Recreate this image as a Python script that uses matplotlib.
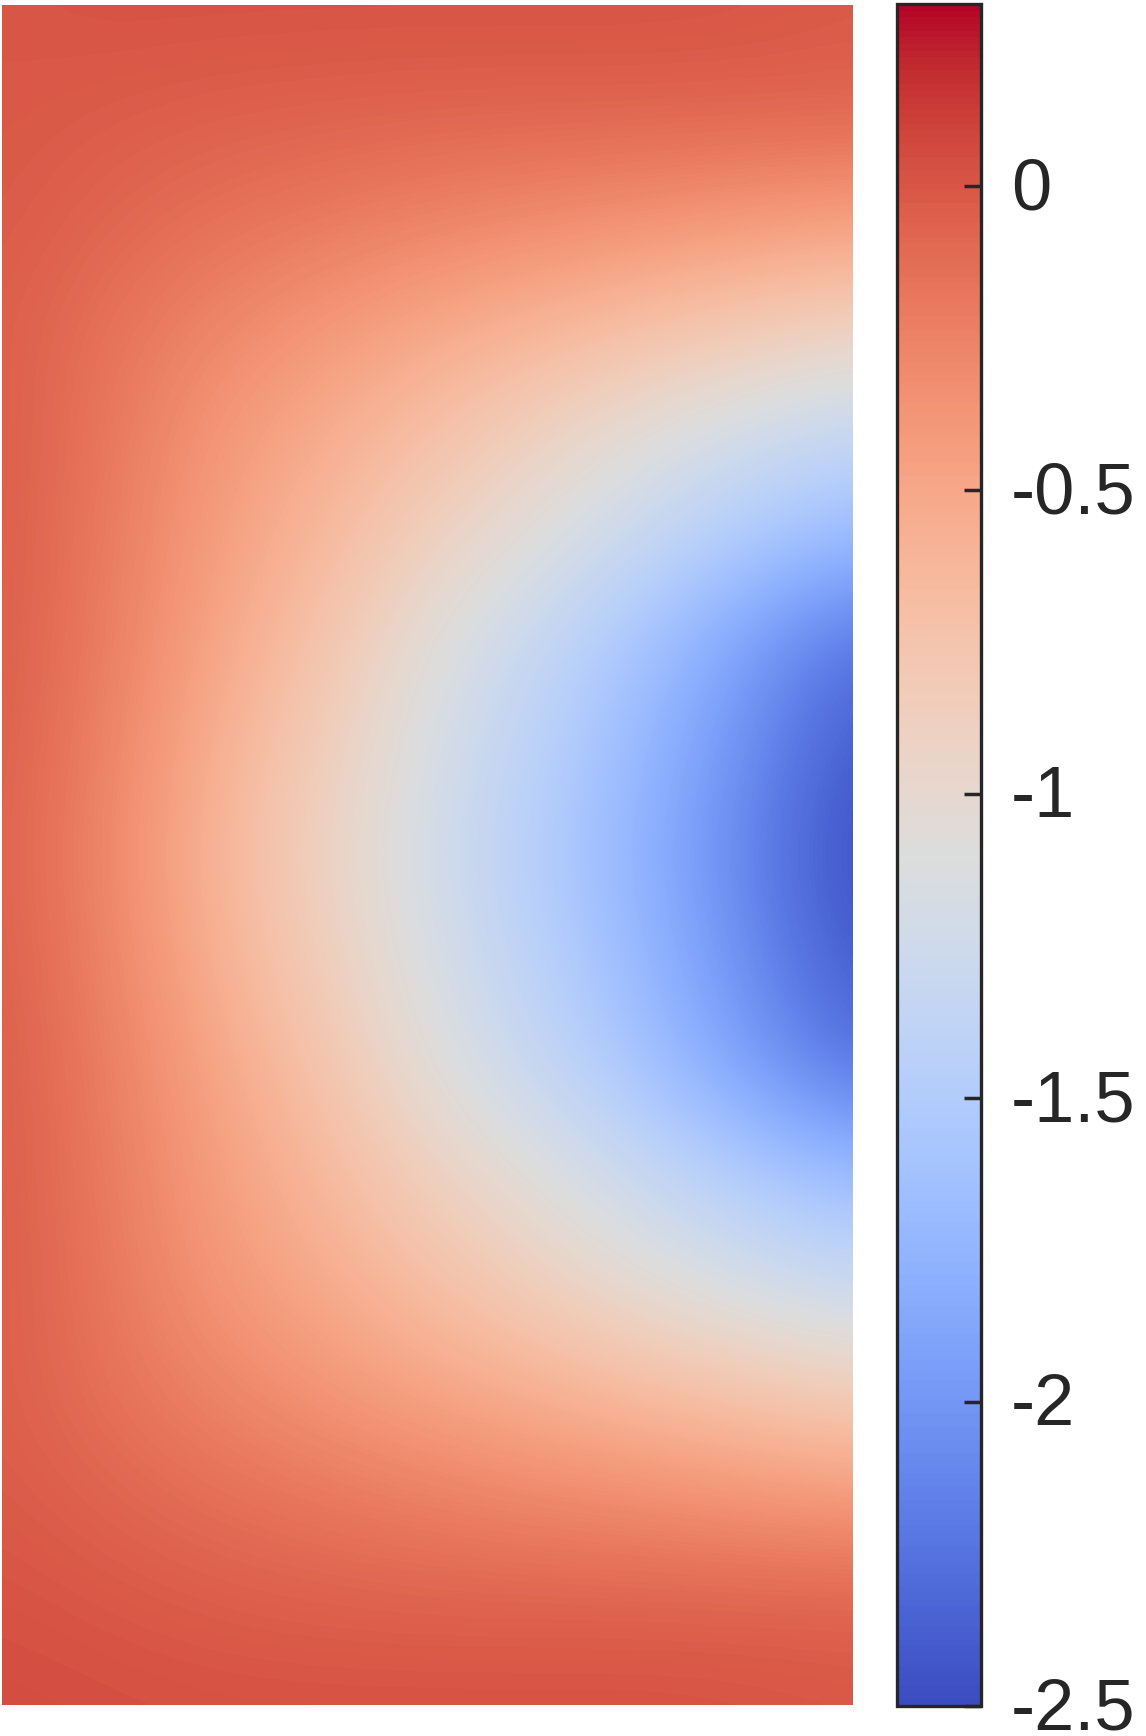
import numpy as np
import matplotlib
matplotlib.use('Agg')
import matplotlib.pyplot as plt
import matplotlib.transforms as mtransforms

plt.rcParams['font.family'] = ['Liberation Sans', 'DejaVu Sans']
plt.rcParams['axes.unicode_minus'] = False

# field values: 17 rows (top -> bottom) x 9 columns (left -> right)
row_00 = [0.00, 0.02, 0.02, 0.02, 0.02, 0.02, 0.02, 0.01, -0.02]
row_01 = [-0.01, -0.03, -0.05, -0.06, -0.07, -0.07, -0.07, -0.07, -0.07]
row_02 = [-0.02, -0.08, -0.14, -0.19, -0.24, -0.29, -0.33, -0.38, -0.42]
row_03 = [-0.04, -0.15, -0.27, -0.38, -0.49, -0.58, -0.69, -0.78, -0.88]
row_04 = [-0.03, -0.18, -0.38, -0.53, -0.70, -0.88, -1.05, -1.20, -1.32]
row_05 = [-0.03, -0.20, -0.43, -0.63, -0.88, -1.08, -1.30, -1.52, -1.70]
row_06 = [-0.03, -0.22, -0.48, -0.74, -1.07, -1.31, -1.60, -1.93, -2.25]
row_07 = [-0.04, -0.25, -0.56, -0.85, -1.15, -1.41, -1.71, -2.06, -2.42]
row_08 = [-0.05, -0.28, -0.60, -0.90, -1.20, -1.47, -1.77, -2.13, -2.48]
row_09 = [-0.04, -0.25, -0.56, -0.85, -1.15, -1.41, -1.71, -2.06, -2.42]
row_10 = [-0.03, -0.22, -0.48, -0.74, -1.07, -1.31, -1.60, -1.93, -2.25]
row_11 = [-0.03, -0.20, -0.43, -0.63, -0.88, -1.08, -1.30, -1.52, -1.70]
row_12 = [-0.03, -0.18, -0.38, -0.53, -0.70, -0.88, -1.05, -1.20, -1.32]
row_13 = [-0.04, -0.15, -0.27, -0.38, -0.49, -0.58, -0.69, -0.78, -0.88]
row_14 = [-0.02, -0.08, -0.14, -0.19, -0.24, -0.29, -0.33, -0.38, -0.42]
row_15 = [0.02, -0.01, -0.04, -0.06, -0.07, -0.07, -0.07, -0.07, -0.07]
row_16 = [0.05, 0.04, 0.03, 0.03, 0.03, 0.03, 0.03, 0.02, 0.00]

cbar_ticks = [-2.5, -2, -1.5, -1, -0.5, 0]
cbar_labels = ['-2.5', '-2', '-1.5', '-1', '-0.5', '0']

field = np.array([row_00, row_01, row_02, row_03, row_04, row_05, row_06, row_07, row_08,
                  row_09, row_10, row_11, row_12, row_13, row_14, row_15, row_16])

fig = plt.figure(figsize=(11.46, 17.36), dpi=100)

# main panel
ax = fig.add_axes([2 / 1146, 31 / 1736, 851 / 1146, 1700 / 1736])
nr, nc = field.shape
dx = 1.0 / (nc - 1)
dy = 2.0 / (nr - 1)
im = ax.imshow(field, cmap='coolwarm', vmin=-2.5, vmax=0.3, interpolation='bicubic',
               extent=(-dx / 2, 1 + dx / 2, 2 + dy / 2, -dy / 2), aspect='auto')
ax.set_xlim(0, 1)
ax.set_ylim(2, 0)
ax.axis('off')

# colorbar
cax = fig.add_axes([896.5 / 1146, 30 / 1736, 84 / 1146, 1702 / 1736])
cb = fig.colorbar(im, cax=cax)
cb.outline.set_linewidth(2.4)
cb.outline.set_edgecolor('#262626')
cb.set_ticks(cbar_ticks)
cb.set_ticklabels(cbar_labels)
cax.tick_params(direction='in', length=12, width=2.5, color='#262626',
                labelsize=52, labelcolor='#262626', pad=22)
# nudge labels up a little so the bottom one stays inside the figure
shift = mtransforms.ScaledTranslation(0, 3 / 100, fig.dpi_scale_trans)
for lbl in cax.get_yticklabels():
    lbl.set_transform(lbl.get_transform() + shift)

fig.savefig('out.png', dpi=100)
